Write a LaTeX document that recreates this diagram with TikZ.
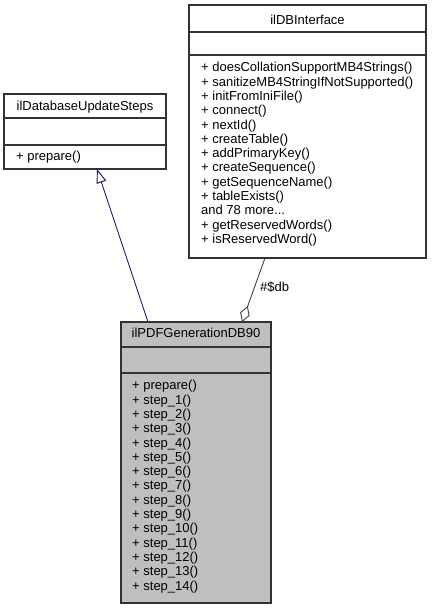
\documentclass[tikz,border=0pt]{standalone}
\usepackage{fontspec}
\setmainfont{Liberation Sans}
\usetikzlibrary{arrows.meta,calc}
\definecolor{pdffill}{RGB}{191,191,191}
\definecolor{edgeblue}{RGB}{25,25,112}
\definecolor{edgegray}{RGB}{64,64,64}
\definecolor{boxline}{RGB}{50,50,50}
\begin{document}
\begin{tikzpicture}[x=1pt,y=-1pt,
  classbox/.style={draw=boxline, line width=1.1pt, fill=white, inner sep=0pt, outer sep=0pt, anchor=north west, rectangle},
  sepline/.style={draw=boxline, line width=1.1pt},
  txt/.style={inner sep=0pt, anchor=base west, font=\fontsize{13pt}{14.3pt}\selectfont},
  ttl/.style={inner sep=0pt, anchor=base, font=\fontsize{13pt}{14.3pt}\selectfont},
  inherit/.style={draw=edgeblue, line width=0.9pt, -{Triangle[open, length=14pt, width=10pt, line width=0.9pt]}},
  aggreg/.style={draw=edgegray, line width=0.9pt, -{Diamond[open, length=17pt, width=10pt, line width=0.9pt]}}]
\useasboundingbox (0,0) rectangle (431,609);

% ilDBInterface
\node[classbox, minimum width=237pt, minimum height=253pt] (db) at (189,5) {};
\draw[sepline] ($(db.north west)+(0,27)$) -- ($(db.north east)+(0,27)$);
\draw[sepline] ($(db.north west)+(0,50)$) -- ($(db.north east)+(0,50)$);
\node[ttl] (dbt) at ($(db.north)+(0,19.6)$) {ilDBInterface};
\foreach \t [count=\i] in {+ doesCollationSupportMB4Strings(), + sanitizeMB4StringIfNotSupported(), + initFromIniFile(), + connect(), + nextId(), + createTable(), + addPrimaryKey(), + createSequence(), + getSequenceName(), + tableExists(), {and 78 more{.}{.}{.}}, + getReservedWords(), + isReservedWord()}
  \node[txt] (dbm\i) at ($(db.north west)+(12,{66.85+(\i-1)*14.3})$) {\t};

% ilDatabaseUpdateSteps
\node[classbox, minimum width=162pt, minimum height=75pt] (steps) at (4,94) {};
\draw[sepline] ($(steps.north west)+(0,24)$) -- ($(steps.north east)+(0,24)$);
\draw[sepline] ($(steps.north west)+(0,51)$) -- ($(steps.north east)+(0,51)$);
\node[ttl] (stepst) at ($(steps.north)+(0,16.3)$) {ilDatabaseUpdateSteps};
\node[txt] (stepsm1) at ($(steps.north west)+(12,66.65)$) {+ prepare()};

% ilPDFGenerationDB90
\node[classbox, fill=pdffill, minimum width=150pt, minimum height=281pt] (pdf) at (121,322) {};
\draw[sepline] ($(pdf.north west)+(0,25)$) -- ($(pdf.north east)+(0,25)$);
\draw[sepline] ($(pdf.north west)+(0,51)$) -- ($(pdf.north east)+(0,51)$);
\node[ttl] (pdft) at ($(pdf.north)+(0,15.6)$) {ilPDFGenerationDB90};
\foreach \t [count=\i] in {+ prepare(), + step\_1(), + step\_2(), + step\_3(), + step\_4(), + step\_5(), + step\_6(), + step\_7(), + step\_8(), + step\_9(), + step\_10(), + step\_11(), + step\_12(), + step\_13(), + step\_14()}
  \node[txt] (pdfm\i) at ($(pdf.north west)+(11,{67.85+(\i-1)*14.3})$) {\t};

% connectors
\draw[inherit] ($(pdf.north west)+(27,0)$) -- ($(steps.south west)+(93,0)$);
\draw[aggreg] ($(db.south west)+(76,0)$) -- ($(pdf.north west)+(121,0)$);
\node[txt, anchor=west] (dblabel) at (260,287) {\#\$db};
\end{tikzpicture}
\end{document}
